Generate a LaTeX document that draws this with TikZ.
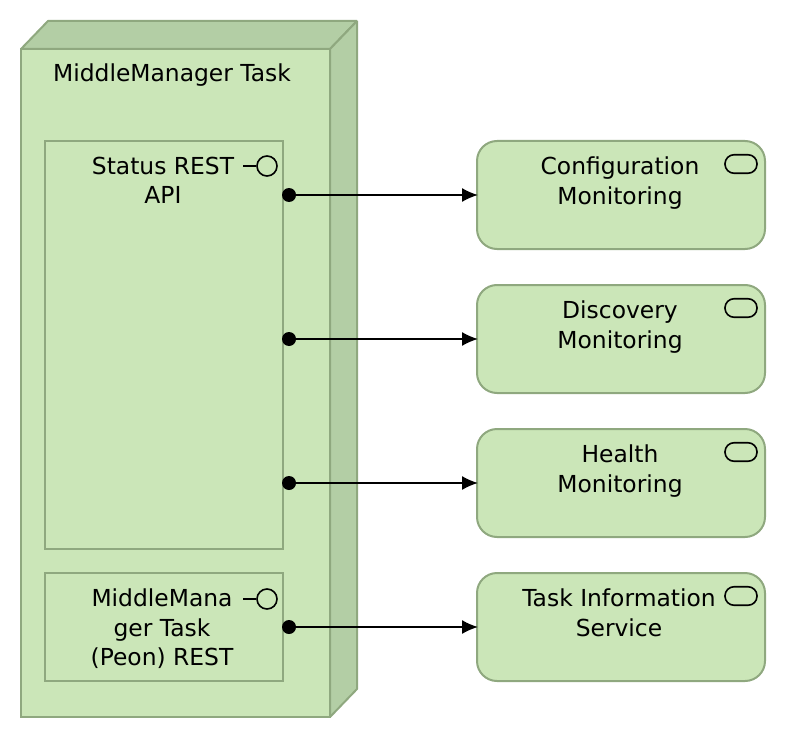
\documentclass[tikz,border=0pt]{standalone}
\usepackage{fontspec}
\setmainfont{DejaVu Sans}
\usetikzlibrary{positioning,arrows.meta}
\definecolor{leaf}{HTML}{CBE6B8}
\definecolor{leafdark}{HTML}{B3CEA5}
\definecolor{leafline}{HTML}{8FA87F}

\begin{document}
\begin{tikzpicture}
[ x=1pt, y=-1pt, line join=miter
, block/.style={rectangle, outer sep=0pt, inner sep=0pt, draw=leafline, fill=leaf, line width=2pt}
, part/.style={block, minimum width=238pt}
, service/.style={block, minimum width=288pt, minimum height=108pt, rounded corners=20pt}
, side/.style={draw=leafline, fill=leafdark, line width=2pt, line join=bevel}
, caption/.style={font=\fontsize{23.4}{29.6}\selectfont, align=center, inner sep=0pt, text=black}
, knob/.style={circle, fill=black, inner sep=0pt, minimum size=14pt}
, ring/.style={circle, draw=black, line width=1.6pt, inner sep=0pt, minimum size=20pt}
, pill/.style={rectangle, draw=black, line width=1.6pt, minimum width=32pt, minimum height=18.5pt, inner sep=0pt, rounded corners=9pt}
, flow/.style={draw=black, line width=1.6pt, shorten >=-1pt, -{Latex[length=16pt,width=14pt]}}
, stub/.style={draw=black, line width=1.6pt}
]
\useasboundingbox (0,0) rectangle (786,738);

% Node with its two far faces:
\node (main) [block, minimum width=309pt, minimum height=668pt] at (175.5,383) {};
\draw [side] (main.north west) -- ++(27,-28) -- ++(309,0) -- ++(-27,28) -- cycle;
\draw [side] (main.north east) -- ++(27,-28) -- ++(0,668) -- ++(-27,28) -- cycle;
\node (maintext) [caption] at (172,75) {MiddleManager Task};

% Parts inside the node:
\node (status) [part, minimum height=408pt] at (164,345) {};
\node (statustext) [caption, anchor=north] at (163,156.5) {Status REST\\API};
\node (peon) [part, minimum height=108pt] at (164,627) {};
\node (peontext) [caption, anchor=north] at (162,588.5) {MiddleMana\\ger Task\\(Peon) REST};

% Interface marks:
\node (statusring) [ring] at (267,166) {};
\coordinate (statusstub) at (243,166);
\draw [stub] (statusstub) -- (statusring);
\node (peonring) [ring] at (267,599) {};
\coordinate (peonstub) at (243,599);
\draw [stub] (peonstub) -- (peonring);

% Services on the right:
\node (config) [service] at (621,195) {};
\node (discovery) [service, below=36pt of config] {};
\node (health) [service, below=36pt of discovery] {};
\node (taskinfo) [service, below=36pt of health] {};
\node (configtext) [caption, anchor=north] at (620,156.5) {Configuration\\Monitoring};
\node (discoverytext) [caption, anchor=north] at (620,300.5) {Discovery\\Monitoring};
\node (healthtext) [caption, anchor=north] at (620,444.5) {Health\\Monitoring};
\node (taskinfotext) [caption, anchor=north] at (619,588.5) {Task Information\\Service};
\foreach \svc/\py in {config/164, discovery/308, health/452, taskinfo/596}
  \node (\svc pill) [pill] at (741,\py) {};

% Connectors:
\foreach \svc/\py in {config/195, discovery/339, health/483, taskinfo/627} {
  \node (\svc knob) [knob] at (289,\py) {};
  \draw [flow] (\svc knob) -- (\svc);
}
\end{tikzpicture}
\end{document}
